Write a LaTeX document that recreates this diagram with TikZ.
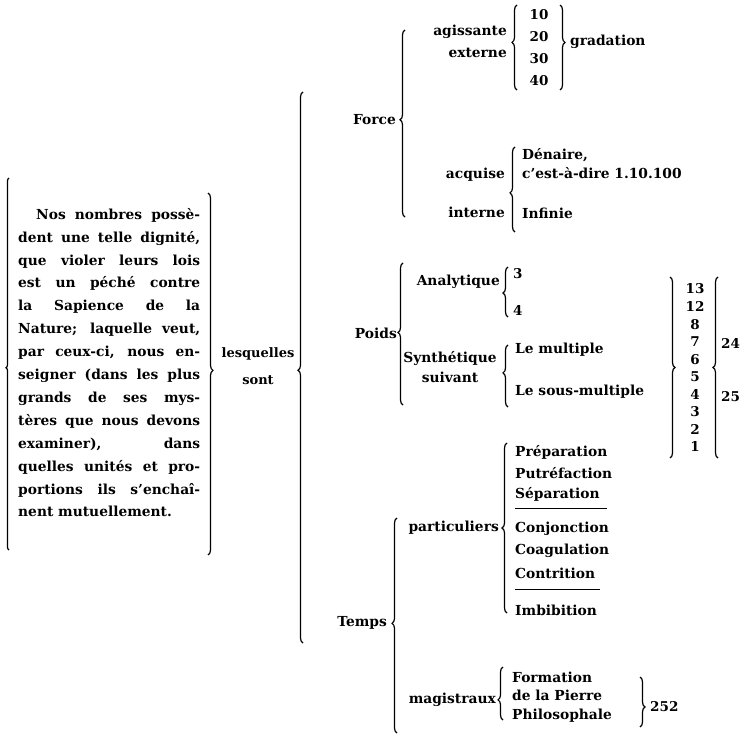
\documentclass[tikz,border=0pt]{standalone}
\usepackage{fontspec}
\setmainfont{DejaVu Serif}
\usetikzlibrary{decorations.pathreplacing}

\tikzset{
  cbrace/.style={decorate,decoration={brace,amplitude=5pt,aspect=#1},line width=1.2pt},
  cbrace/.default=0.5,
  lbl/.style={inner sep=0pt,font=\fontsize{13.8}{19}\selectfont\bfseries},
  num/.style={inner sep=0pt,font=\fontsize{13.5}{14}\selectfont\bfseries},
}

\begin{document}
\begin{tikzpicture}[x=1pt,y=-1pt]
\useasboundingbox (0,0) rectangle (744,738);

% the boxed sentence
\node[anchor=north west,inner sep=0pt,text width=182pt,align=justify,
  font=\fontsize{13.8}{22.9}\selectfont\bfseries] (texte) at (18,208) {%
\hspace*{18pt}Nos nombres possè-\linebreak
dent une telle dignité,\linebreak
que violer leurs lois\linebreak
est un péché contre\linebreak
la Sapience de la\linebreak
Nature; laquelle veut,\linebreak
par ceux-ci, nous en-\linebreak
seigner (dans les plus\linebreak
grands de ses mys-\linebreak
tères que nous devons\linebreak
examiner), dans\linebreak
quelles unités et pro-\linebreak
portions ils s'enchaî-\linebreak
nent mutuellement.};
\draw[cbrace=0.49,decoration={amplitude=3pt}] (9,550) -- (9,178);
\draw[cbrace=0.49] (208,193) -- (208,555);

\node[lbl,align=center,font=\fontsize{13}{27}\selectfont\bfseries] (lesq) at (258,366) {lesquelles\\sont};
\draw[cbrace=0.495] (303,643) -- (303,92);

% Force
\node[lbl,anchor=east] (force) at (396,120) {Force};
\draw[cbrace=0.52] (405,217) -- (405,30);
\node[lbl,anchor=east,align=right,font=\fontsize{13.8}{22}\selectfont\bfseries] (agis) at (507,41) {agissante\\externe};
\draw[cbrace=0.56] (517,90) -- (517,5);
\foreach \n [count=\i from 0] in {10,20,30,40}
  \node[num] (g\n) at (539,15+22*\i) {\n};
\draw[cbrace=0.44] (560,5) -- (560,90);
\node[lbl,anchor=west] (grad) at (570,42) {gradation};
\node[lbl,anchor=east] (acq) at (505,175) {acquise};
\node[lbl,anchor=east] (int) at (505,212) {interne};
\draw[cbrace=0.46] (515,232) -- (515,147);
\node[lbl,anchor=west,align=left] (den) at (522,164) {Dénaire,\\c'est-à-dire 1.10.100};
\node[lbl,anchor=west] (inf) at (522,213) {Infinie};

% Poids
\node[lbl,anchor=east] (poids) at (397,333) {Poids};
\draw[cbrace=0.51] (403,405) -- (403,263);
\node[lbl,anchor=east] (ana) at (500,282) {Analytique};
\draw[cbrace=0.48] (508,317) -- (508,267);
\node[num,anchor=west] (trois) at (513,274) {3};
\node[num,anchor=west] (quatre) at (513,310) {4};
\node[lbl,align=center,font=\fontsize{13.8}{20}\selectfont\bfseries] (synth) at (450,367) {Synthétique\\suivant};
\draw[cbrace=0.55] (508,407) -- (508,345);
\node[lbl,anchor=west] (mult) at (515,350) {Le multiple};
\node[lbl,anchor=west] (smult) at (515,392) {Le sous-multiple};
\draw[cbrace=0.5] (670,277) -- (670,458);
\foreach \n [count=\i from 0] in {13,12,8,7,6,5,4,3,2,1}
  \node[num] (n\n) at (695,289+17.55*\i) {\n};
\draw[cbrace=0.5] (718,458) -- (718,277);
\node[num,anchor=west] (vq) at (721,343) {24};
\node[num,anchor=west] (vc) at (721,397) {25};

% Temps
\node[lbl,anchor=east] (temps) at (387,623) {Temps};
\draw[cbrace=0.51] (397,733) -- (397,518);
\node[lbl,anchor=east] (part) at (499,528) {particuliers};
\draw[cbrace=0.5] (507,613) -- (507,443);
\foreach \op/\y in {Préparation/452,Putréfaction/473,Séparation/494,Conjonction/529,Coagulation/551,Contrition/573,Imbibition/610}
  \node[lbl,anchor=west] (\op) at (515,\y) {\op};
\draw[line width=1pt] (515,508) -- (607,508);
\draw[line width=1pt] (515,589) -- (600,589);
\node[lbl,anchor=east] (mag) at (496,700) {magistraux};
\draw[cbrace=0.38] (503,720) -- (503,667);
\node[lbl,anchor=west,align=left,font=\fontsize{13.8}{18.5}\selectfont\bfseries] (pierre) at (512,697) {Formation\\de la Pierre\\Philosophale};
\draw[cbrace=0.6] (640,677) -- (640,727);
\node[num,anchor=west] (res) at (650,707) {252};
\end{tikzpicture}
\end{document}
